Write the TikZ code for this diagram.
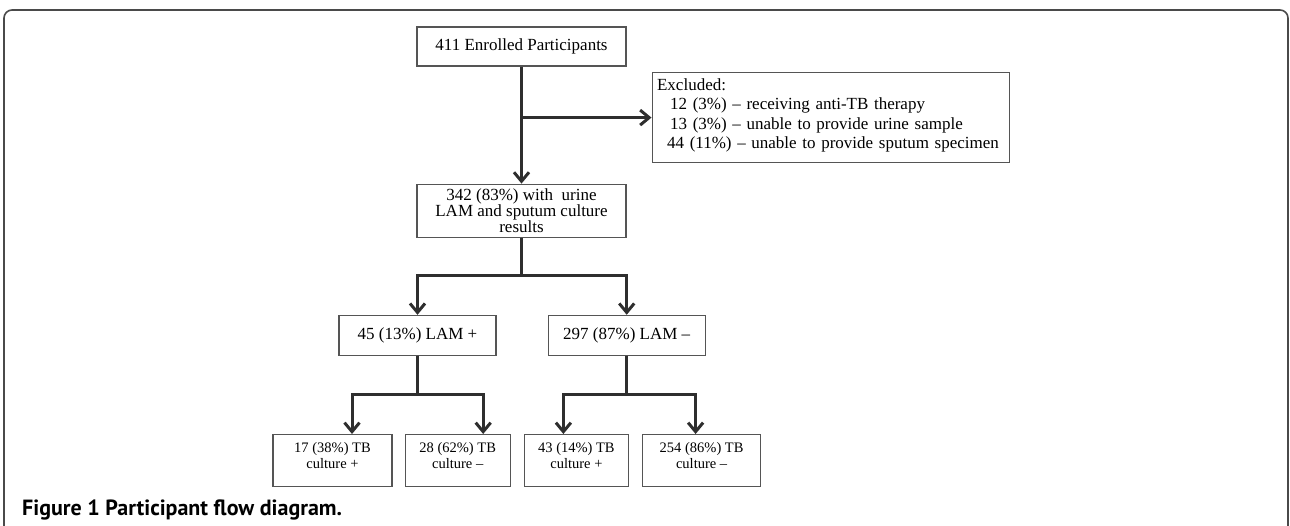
\documentclass[tikz,border=0pt]{standalone}
\usepackage{fontspec}
\setmainfont{Liberation Serif}
\newfontfamily\captionfont{PT Sans}
\usepackage{tikz}
\usetikzlibrary{arrows.meta,positioning,calc}
\definecolor{framegrey}{HTML}{4A4A4A}
\definecolor{linegrey}{HTML}{2E2E2E}
\definecolor{boxgrey}{HTML}{555555}
\tikzset{
  flowbox/.style={
    rectangle, draw=boxgrey, line width=1.2pt, inner sep=0pt,
    align=center, font=\fontsize{17}{14.5}\selectfont
  },
  smallbox/.style={flowbox, minimum height=52pt, font=\fontsize{14.5}{16}\selectfont},
  flowline/.style={line width=3pt, draw=linegrey},
  flowarrow/.style={flowline, -{Straight Barb[length=9pt,width=15pt]}}
}

\begin{document}
\begin{tikzpicture}[x=1pt, y=1pt, node distance=12pt]
\useasboundingbox (0,0) rectangle (1290,525);
\draw[framegrey, line width=1.6pt, rounded corners=8pt] (4,-2) -- (4,515) -- (1288,515) -- (1288,-2);

\node[flowbox, minimum width=209pt, minimum height=39pt] (enrolled) at (521.5,478.5) {411 Enrolled Participants};
\node[flowbox, minimum width=209pt, minimum height=53pt, below=117pt of enrolled] (results)
  {342 (83\%) with\ \ urine\\LAM and sputum culture\\results};
\coordinate[below=51pt of enrolled] (exsplit);
\node[flowbox, text width=347pt, inner xsep=5pt, minimum height=90pt, align=left,
  font=\fontsize{17}{19.5}\selectfont, right=130pt of exsplit] (excluded)
  {Excluded:\\
   \hspace*{13pt}12 (3\%) – receiving anti-TB therapy\\
   \hspace*{13pt}13 (3\%) – unable to provide urine sample\\
   \hspace*{10pt}44 (11\%) – unable to provide sputum specimen\\[-12pt]\mbox{}};

\node[flowbox, minimum width=157pt, minimum height=40pt, below=77pt of results, xshift=-104pt] (lampos) {45 (13\%) LAM +};
\node[flowbox, minimum width=157pt, minimum height=40pt, right=51pt of lampos] (lamneg) {297 (87\%) LAM –};

\node[smallbox, minimum width=119pt, below=78pt of lampos, xshift=-85pt] (cultpos1) {17 (38\%) TB\\culture +\\[-5pt]\mbox{}};
\node[smallbox, minimum width=105pt, right=12pt of cultpos1] (cultneg1) {28 (62\%) TB\\culture –\\[-5pt]\mbox{}};
\node[smallbox, minimum width=104pt, right=13pt of cultneg1] (cultpos2) {43 (14\%) TB\\culture +\\[-5pt]\mbox{}};
\node[smallbox, minimum width=118pt, right=13pt of cultpos2] (cultneg2) {254 (86\%) TB\\culture –\\[-5pt]\mbox{}};

\node[anchor=base west, inner sep=0pt, font=\captionfont\bfseries\fontsize{22}{24}\selectfont] (caption) at (22,10)
  {Figure 1 Participant flow diagram.};

\draw[flowarrow] (enrolled.south) -- (results.north);
\draw[flowarrow] (exsplit) -- (excluded.west);
\draw[flowarrow] (results.south) -- ++(0,-38) -| (lampos.north);
\draw[flowarrow] (results.south) -- ++(0,-38) -| (lamneg.north);
\draw[flowarrow] (lampos.south) -- ++(0,-39) -| ([xshift=19.5pt]cultpos1.north);
\draw[flowarrow] (lampos.south) -- ++(0,-39) -| ([xshift=25.5pt]cultneg1.north);
\draw[flowarrow] (lamneg.south) -- ++(0,-39) -| ([xshift=-13pt]cultpos2.north);
\draw[flowarrow] (lamneg.south) -- ++(0,-39) -| ([xshift=-6pt]cultneg2.north);
\end{tikzpicture}
\end{document}
